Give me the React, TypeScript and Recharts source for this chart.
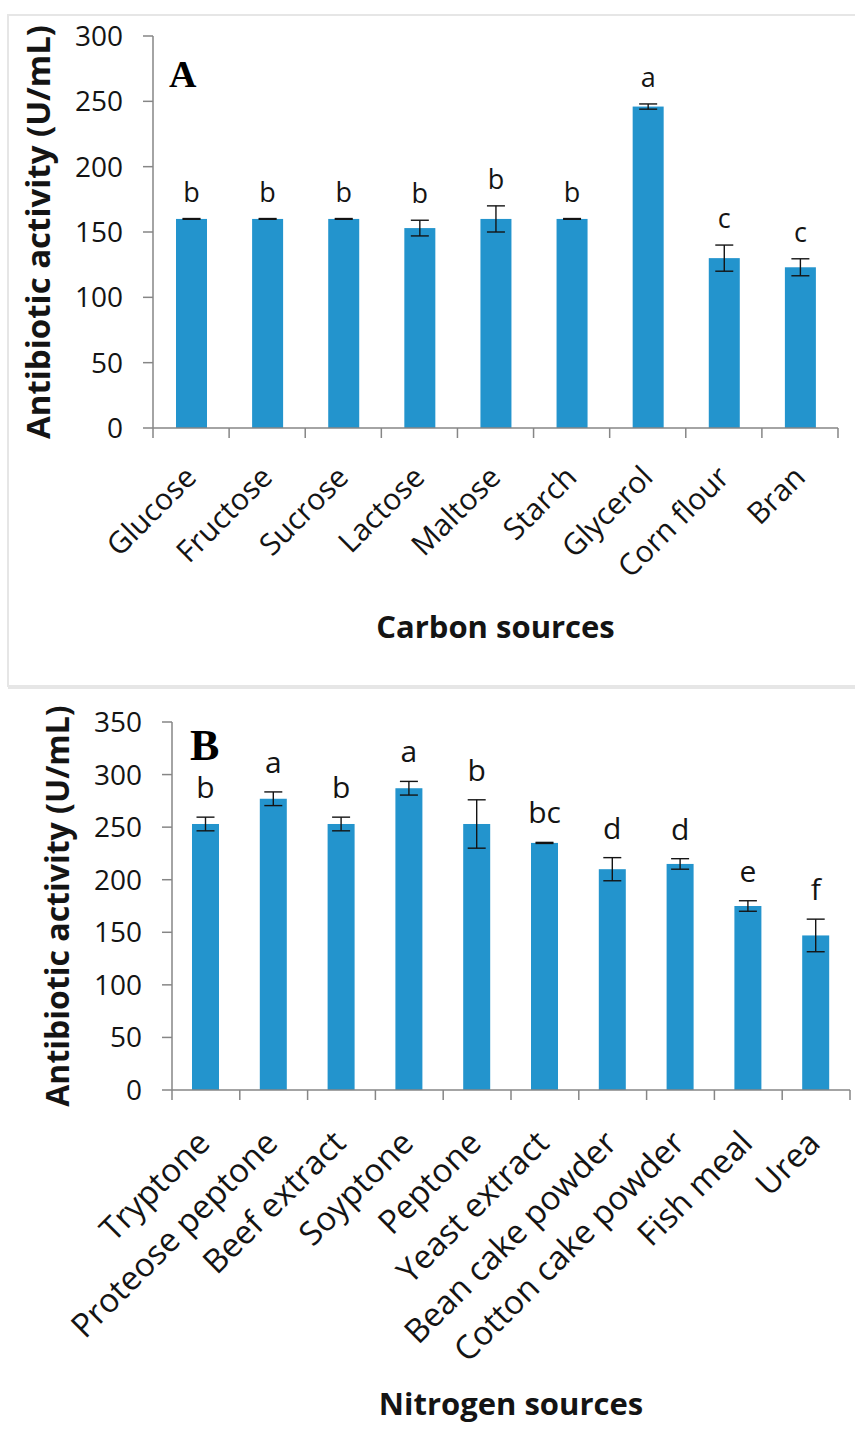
import { BarChart, Bar, XAxis, YAxis, ErrorBar } from "recharts";

// ---------------------------------------------------------------------------
// Data
// ---------------------------------------------------------------------------

const carbonSources = ["Glucose", "Fructose", "Sucrose", "Lactose", "Maltose", "Starch", "Glycerol", "Corn flour", "Bran"];
const carbonActivity = [160, 160, 160, 153, 160, 160, 246, 130, 123];
const carbonError = [0.3, 0.3, 0.3, 6, 10, 0.3, 2, 10, 6.5];
const carbonLetters = ["b", "b", "b", "b", "b", "b", "a", "c", "c"];
const carbonTicks = [0, 50, 100, 150, 200, 250, 300];

const nitrogenSources = [
  "Tryptone",
  "Proteose peptone",
  "Beef extract",
  "Soyptone",
  "Peptone",
  "Yeast extract",
  "Bean cake powder",
  "Cotton cake powder",
  "Fish meal",
  "Urea",
];
const nitrogenActivity = [253, 277, 253, 287, 253, 235, 210, 215, 175, 147];
const nitrogenError = [6.5, 6.5, 6.5, 6.5, 23, 0.5, 11, 5, 5, 15.5];
const nitrogenLetters = ["b", "a", "b", "a", "b", "bc", "d", "d", "e", "f"];
const nitrogenTicks = [0, 50, 100, 150, 200, 250, 300, 350];

const AXIS = "#868686";
const BAR = "#2394cd";
const INK = "#141414";

const carbonData = carbonSources.map((name, i) => ({
  name,
  activity: carbonActivity[i],
  err: carbonError[i],
  letter: carbonLetters[i],
}));

const nitrogenData = nitrogenSources.map((name, i) => ({
  name,
  activity: nitrogenActivity[i],
  err: nitrogenError[i],
  letter: nitrogenLetters[i],
}));

// ---------------------------------------------------------------------------
// Pieces
// ---------------------------------------------------------------------------

// bar + significance letter sitting above its error bar
function LetteredBar(props: any) {
  const { x, y, width, height, payload, gap, fontSize } = props;
  const errPx = payload.activity > 0 ? (payload.err * height) / payload.activity : 0;
  return (
    <g>
      <rect x={x} y={y} width={width} height={height} fill={BAR} />
      <text x={x + width / 2} y={y - errPx - gap} textAnchor="middle" fontSize={fontSize} fill={INK}>
        {payload.letter}
      </text>
    </g>
  );
}

// rotated category label, tick marks between categories
function SourceTick(props: any) {
  const { x, y, payload, index, visibleTicksCount, band, fontSize, dx, dy } = props;
  const half = band / 2;
  const tx = x + dx;
  const ty = y + dy;
  return (
    <g>
      <line x1={x - half} x2={x - half} y1={y} y2={y + 10} stroke={AXIS} strokeWidth={1.5} />
      {index === visibleTicksCount - 1 && (
        <line x1={x + half} x2={x + half} y1={y} y2={y + 10} stroke={AXIS} strokeWidth={1.5} />
      )}
      <text x={tx} y={ty} textAnchor="end" transform={`rotate(-45, ${tx}, ${ty})`} fontSize={fontSize} fill={INK}>
        {payload.value}
      </text>
    </g>
  );
}

function yLabel(cx: number, size: number) {
  return ({ viewBox }: any) => {
    const cy = viewBox.y + viewBox.height / 2;
    return (
      <text
        x={cx}
        y={cy}
        transform={`rotate(-90, ${cx}, ${cy})`}
        textAnchor="middle"
        dominantBaseline="central"
        fontSize={size}
        fontWeight={700}
        fill={INK}
      >
        Antibiotic activity (U/mL)
      </text>
    );
  };
}

interface PanelProps {
  data: { name: string; activity: number; err: number; letter: string }[];
  ticks: number[];
  width: number;
  height: number;
  margin: { top: number; right: number; left: number; bottom: number };
  yWidth: number;
  xHeight: number;
  band: number;
  barSize: number;
  tickFont: number;
  tickDx: number;
  tickDy: number;
  letterFont: number;
  letterGap: number;
  labelX: number;
  labelFont: number;
  title: string;
  titleOffset: number;
}

function Panel(p: PanelProps) {
  const top = p.ticks[p.ticks.length - 1];
  return (
    <BarChart width={p.width} height={p.height} data={p.data} margin={p.margin}>
      <XAxis
        dataKey="name"
        interval={0}
        height={p.xHeight}
        tickSize={0}
        tickMargin={0}
        tickLine={false}
        axisLine={{ stroke: AXIS, strokeWidth: 1.5 }}
        tick={(t: any) => (
          <SourceTick {...t} band={p.band} fontSize={p.tickFont} dx={p.tickDx} dy={p.tickDy} />
        )}
        label={{
          value: p.title,
          position: "insideBottom",
          offset: p.titleOffset,
          style: { fontSize: 31, fontWeight: 700, fill: INK },
        }}
      />
      <XAxis
        xAxisId="top"
        dataKey="name"
        orientation="top"
        height={0}
        tick={false}
        tickLine={false}
        axisLine={{ stroke: AXIS, strokeWidth: 1.5 }}
      />
      <YAxis
        width={p.yWidth}
        domain={[0, top]}
        ticks={p.ticks}
        interval={0}
        tickSize={10}
        tickMargin={20}
        tick={{ fontSize: 28, fill: INK }}
        tickLine={{ stroke: AXIS, strokeWidth: 1.5 }}
        axisLine={{ stroke: AXIS, strokeWidth: 1.5 }}
        label={{ content: yLabel(p.labelX, p.labelFont) } as any}
      />
      <YAxis
        yAxisId="frame"
        orientation="right"
        width={0}
        domain={[0, 1]}
        tick={false}
        tickLine={false}
        axisLine={{ stroke: AXIS, strokeWidth: 1.5 }}
      />
      <Bar
        dataKey="activity"
        barSize={p.barSize}
        isAnimationActive={false}
        shape={(s: any) => <LetteredBar {...s} gap={p.letterGap} fontSize={p.letterFont} />}
      >
        <ErrorBar dataKey="err" width={9} strokeWidth={1.4} stroke={INK} direction="y" isAnimationActive={false} />
      </Bar>
    </BarChart>
  );
}

export default function App() {
  return (
    <div
      style={{
        position: "absolute",
        top: 0,
        left: 0,
        width: 855,
        height: 1448,
        background: "#fff",
        fontFamily: "'Open Sans', sans-serif",
        overflow: "hidden",
      }}
    >
      {/* faint panel frames */}
      <div
        style={{
          position: "absolute",
          left: 7,
          top: 14,
          width: 860,
          height: 673,
          border: "2px solid #e6e6e6",
          boxSizing: "border-box",
        }}
      />
      <div style={{ position: "absolute", left: 8, top: 687, width: 850, height: 0, borderTop: "2px solid #e6e6e6" }} />

      <div style={{ position: "absolute", left: 0, top: 0 }}>
        <Panel
          data={carbonData}
          ticks={carbonTicks}
          width={855}
          height={690}
          margin={{ top: 36, right: 17, left: 0, bottom: 0 }}
          yWidth={153}
          xHeight={262}
          band={76.1}
          barSize={31}
          tickFont={30}
          tickDx={7}
          tickDy={51}
          letterFont={27}
          letterGap={17}
          labelX={37}
          labelFont={33}
          title="Carbon sources"
          titleOffset={52}
        />
      </div>

      <div style={{ position: "absolute", left: 0, top: 690 }}>
        <Panel
          data={nitrogenData}
          ticks={nitrogenTicks}
          width={855}
          height={758}
          margin={{ top: 32, right: 5, left: 0, bottom: 0 }}
          yWidth={172}
          xHeight={358}
          band={67.8}
          barSize={27}
          tickFont={33}
          tickDx={6}
          tickDy={55}
          letterFont={30}
          letterGap={19}
          labelX={56}
          labelFont={32}
          title="Nitrogen sources"
          titleOffset={33}
        />
      </div>

      {/* panel letters */}
      <svg
        width={855}
        height={1448}
        style={{ position: "absolute", left: 0, top: 0, pointerEvents: "none" }}
      >
        <text x={169} y={87} fontFamily="'Liberation Serif', serif" fontWeight={700} fontSize={38} fill="#000">
          A
        </text>
        <text x={190} y={760} fontFamily="'Liberation Serif', serif" fontWeight={700} fontSize={44} fill="#000">
          B
        </text>
      </svg>
    </div>
  );
}
